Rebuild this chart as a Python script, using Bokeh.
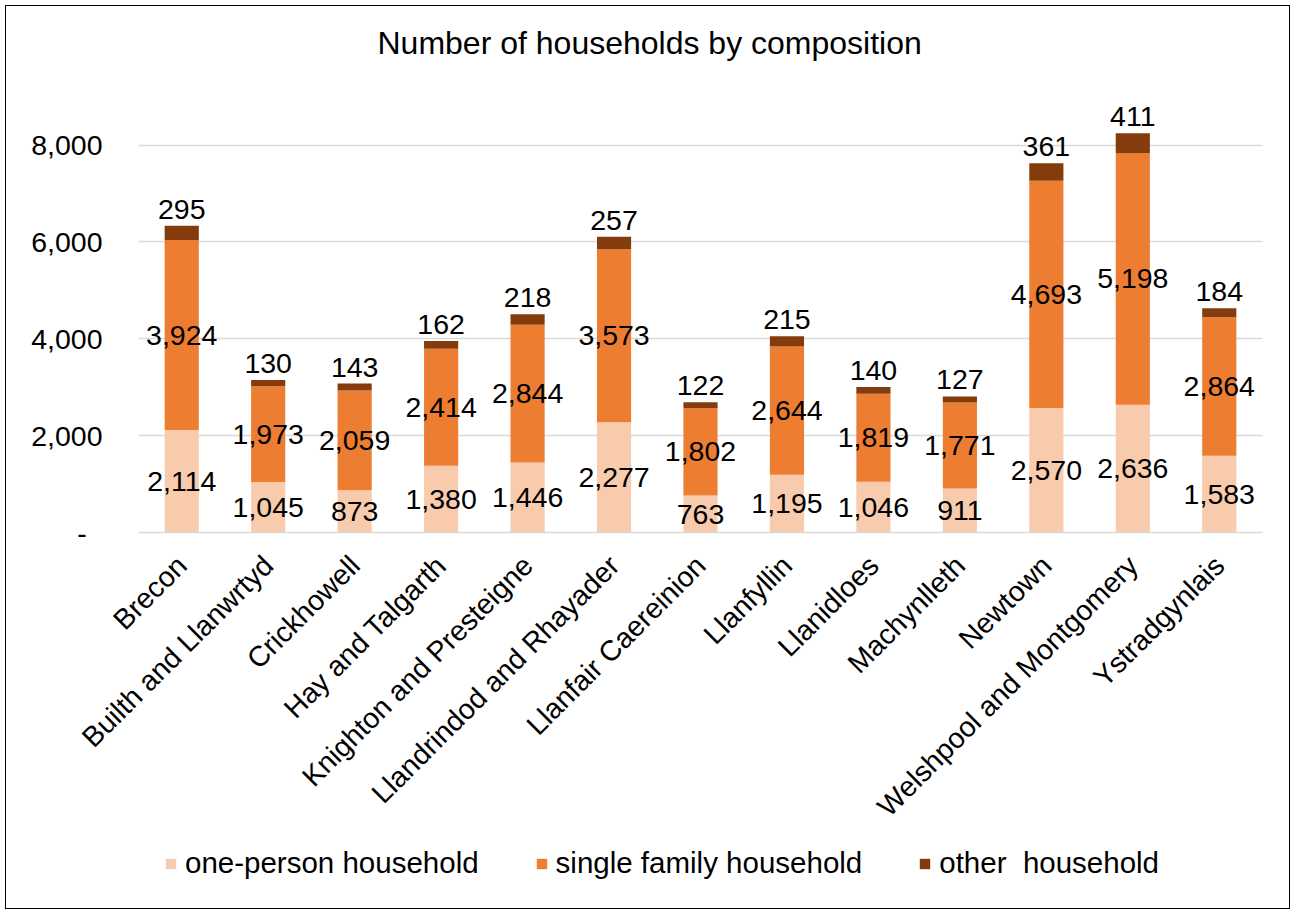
from bokeh.plotting import figure
from bokeh.layouts import column
from bokeh.models import (ColumnDataSource, FactorRange, Range1d, FixedTicker,
                          NumeralTickFormatter, LabelSet, Legend, LegendItem)
from bokeh.core.properties import value
from bokeh.embed import file_html
from bokeh.resources import INLINE

categories = ["Brecon", "Builth and Llanwrtyd", "Crickhowell", "Hay and Talgarth",
              "Knighton and Presteigne", "Llandrindod and Rhayader", "Llanfair Caereinion",
              "Llanfyllin", "Llanidloes", "Machynlleth", "Newtown",
              "Welshpool and Montgomery", "Ystradgynlais"]
one_person = [2114, 1045, 873, 1380, 1446, 2277, 763, 1195, 1046, 911, 2570, 2636, 1583]
single_family = [3924, 1973, 2059, 2414, 2844, 3573, 1802, 2644, 1819, 1771, 4693, 5198, 2864]
other = [295, 130, 143, 162, 218, 257, 122, 215, 140, 127, 361, 411, 184]
series_names = ["one-person household", "single family household", "other  household"]
colors = ["#F8CBAD", "#ED7D31", "#843C0C"]
y_ticks = [0, 2000, 4000, 6000, 8000]

FONT = "Liberation Sans"
W = 1283

src = ColumnDataSource(dict(
    cat=categories,
    one=one_person,
    fam=single_family,
    oth=other,
    mid1=[a / 2 for a in one_person],
    mid2=[a + b / 2 for a, b in zip(one_person, single_family)],
    top=[a + b + c for a, b, c in zip(one_person, single_family, other)],
    t1=[f"{v:,}" for v in one_person],
    t2=[f"{v:,}" for v in single_family],
    t3=[f"{v:,}" for v in other],
))

p = figure(x_range=FactorRange(*categories, range_padding=0), y_range=Range1d(0, 9643),
           width=W, height=836, output_backend="svg", toolbar_location=None,
           min_border_left=132, min_border_right=27, min_border_top=59, min_border_bottom=310)
p.outline_line_color = None

rs = p.vbar_stack(["one", "fam", "oth"], x="cat", width=0.395, source=src,
                  color=colors, line_color=None)

# title
p.title.text = "Number of households by composition"
p.title.align = "left"
p.title.offset = 239
p.title.text_font = FONT
p.title.text_font_size = "32px"
p.title.text_font_style = "normal"
p.title.text_color = "#000000"

# y axis
p.yaxis.ticker = FixedTicker(ticks=y_ticks)
p.yaxis.formatter = NumeralTickFormatter(format="0,0")
p.yaxis.major_label_overrides = {0: "-\u00a0\u00a0"}
p.yaxis.axis_line_color = None
p.yaxis.major_tick_line_color = None
p.yaxis.minor_tick_line_color = None
p.yaxis.major_label_standoff = 30
p.yaxis.major_label_text_font = FONT
p.yaxis.major_label_text_font_size = "28.5px"
p.yaxis.major_label_text_color = "#000000"

# x axis
p.xaxis.axis_line_color = "#d9d9d9"
p.xaxis.axis_line_width = 1.5
p.xaxis.major_tick_line_color = None
p.xaxis.minor_tick_line_color = None
p.xaxis.major_label_orientation = 0.785398
p.xaxis.major_label_standoff = 22
p.xaxis.major_label_text_font = FONT
p.xaxis.major_label_text_font_size = "28.5px"
p.xaxis.major_label_text_color = "#000000"

p.xgrid.grid_line_color = None
p.ygrid.grid_line_color = "#d9d9d9"
p.ygrid.grid_line_width = 1.5

# data labels
for ycol, tcol, base, off in [("mid1", "t1", "middle", 0), ("mid2", "t2", "middle", 0),
                              ("top", "t3", "bottom", 7)]:
    p.add_layout(LabelSet(x="cat", y=ycol, text=tcol, source=src, text_align="center",
                          text_baseline=base, y_offset=off, text_font=value(FONT),
                          text_font_size="28.5px", text_color="#000000"))

# legend strip (separate figure under the chart, hidden mirror of the stacked series)
pl = figure(x_range=FactorRange(*categories, range_padding=0), y_range=Range1d(0, 9643),
            width=W, height=66, output_backend="svg", toolbar_location=None,
            x_axis_type=None, y_axis_type=None, min_border=0)
pl.outline_line_color = None
pl.xgrid.visible = False
pl.ygrid.visible = False
lrs = pl.vbar_stack(["one", "fam", "oth"], x="cat", width=0.395, source=src,
                    color=colors, line_color=None)
for r in lrs:
    r.visible = False
legend = Legend(items=[LegendItem(label=n, renderers=[r]) for n, r in zip(series_names, lrs)],
                orientation="horizontal", location=(26, 28),
                glyph_width=13, glyph_height=13, label_standoff=8, spacing=56,
                padding=0, margin=0, border_line_color=None, background_fill_alpha=0,
                inactive_fill_alpha=0,
                label_text_font=FONT, label_text_font_size="29.5px", label_text_color="#000000")
pl.add_layout(legend, "center")

layout = column(p, pl, spacing=0,
                styles={"border": "1.5px solid #000000", "margin": "5px 0 0 5px"})

open("out.html", "w").write(file_html(layout, INLINE))
